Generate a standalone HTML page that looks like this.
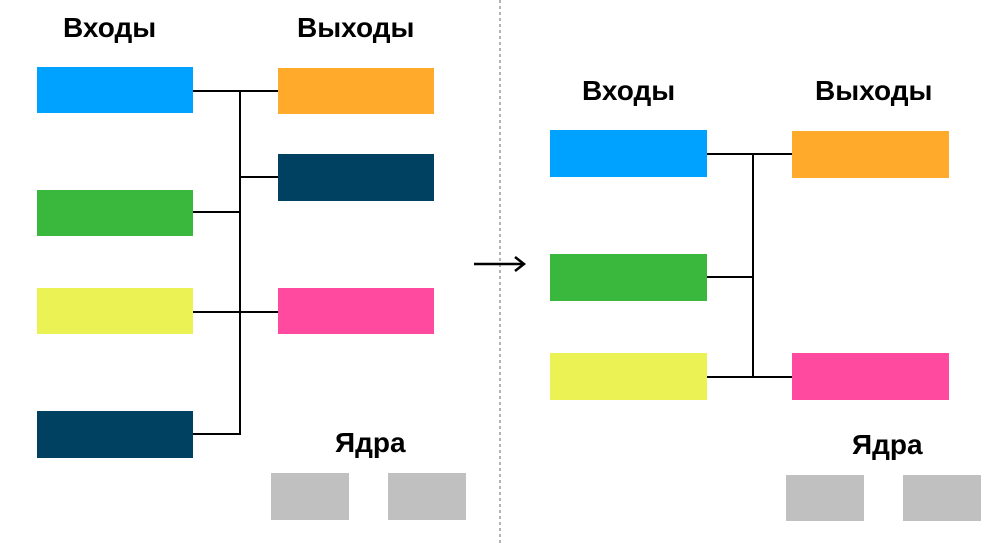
<!DOCTYPE html>
<html><head><meta charset="utf-8"><style>
html,body{margin:0;padding:0;background:#fff;}
svg{display:block;}
text{font-family:"Liberation Sans",sans-serif;font-weight:bold;font-size:28px;fill:#000;}
</style></head><body>
<svg width="1000" height="544" viewBox="0 0 1000 544">
<line x1="500" y1="0" x2="500" y2="544" stroke="#999" stroke-width="1.5" stroke-dasharray="3,3"/>
<text x="63" y="37">Входы</text>
<text x="297" y="37">Выходы</text>
<g stroke="#000" stroke-width="2" fill="none">
<line x1="240" y1="91" x2="240" y2="435"/>
<line x1="193" y1="91" x2="278" y2="91"/>
<line x1="240" y1="177" x2="278" y2="177"/>
<line x1="193" y1="212" x2="240" y2="212"/>
<line x1="193" y1="312" x2="278" y2="312"/>
<line x1="193" y1="434" x2="240" y2="434"/>
</g>
<rect x="37" y="67" width="156" height="46" fill="#00a2ff"/>
<rect x="37" y="190" width="156" height="46" fill="#3ab83e"/>
<rect x="37" y="288" width="156" height="46" fill="#ebf354"/>
<rect x="37" y="411" width="156" height="47" fill="#004060"/>
<rect x="278" y="68" width="156" height="46" fill="#ffaa2a"/>
<rect x="278" y="154" width="156" height="47" fill="#004060"/>
<rect x="278" y="288" width="156" height="46" fill="#ff4aa0"/>
<text x="335" y="452">Ядра</text>
<rect x="271" y="473" width="78" height="47" fill="#c0c0c0"/>
<rect x="388" y="473" width="78" height="47" fill="#c0c0c0"/>
<g stroke="#000" stroke-width="2.5" fill="none">
<line x1="474" y1="264" x2="524" y2="264"/>
<polyline points="515,257 524,264 515,271"/>
</g>
<text x="582" y="100">Входы</text>
<text x="815" y="100">Выходы</text>
<g stroke="#000" stroke-width="2" fill="none">
<line x1="753" y1="154" x2="753" y2="378"/>
<line x1="707" y1="154" x2="792" y2="154"/>
<line x1="707" y1="277" x2="753" y2="277"/>
<line x1="707" y1="377" x2="792" y2="377"/>
</g>
<rect x="550" y="130" width="157" height="47" fill="#00a2ff"/>
<rect x="550" y="254" width="157" height="47" fill="#3ab83e"/>
<rect x="550" y="353" width="157" height="47" fill="#ebf354"/>
<rect x="792" y="131" width="157" height="47" fill="#ffaa2a"/>
<rect x="792" y="353" width="157" height="47" fill="#ff4aa0"/>
<text x="852" y="454">Ядра</text>
<rect x="786" y="475" width="78" height="46" fill="#c0c0c0"/>
<rect x="903" y="475" width="78" height="46" fill="#c0c0c0"/>
</svg>
</body></html>
